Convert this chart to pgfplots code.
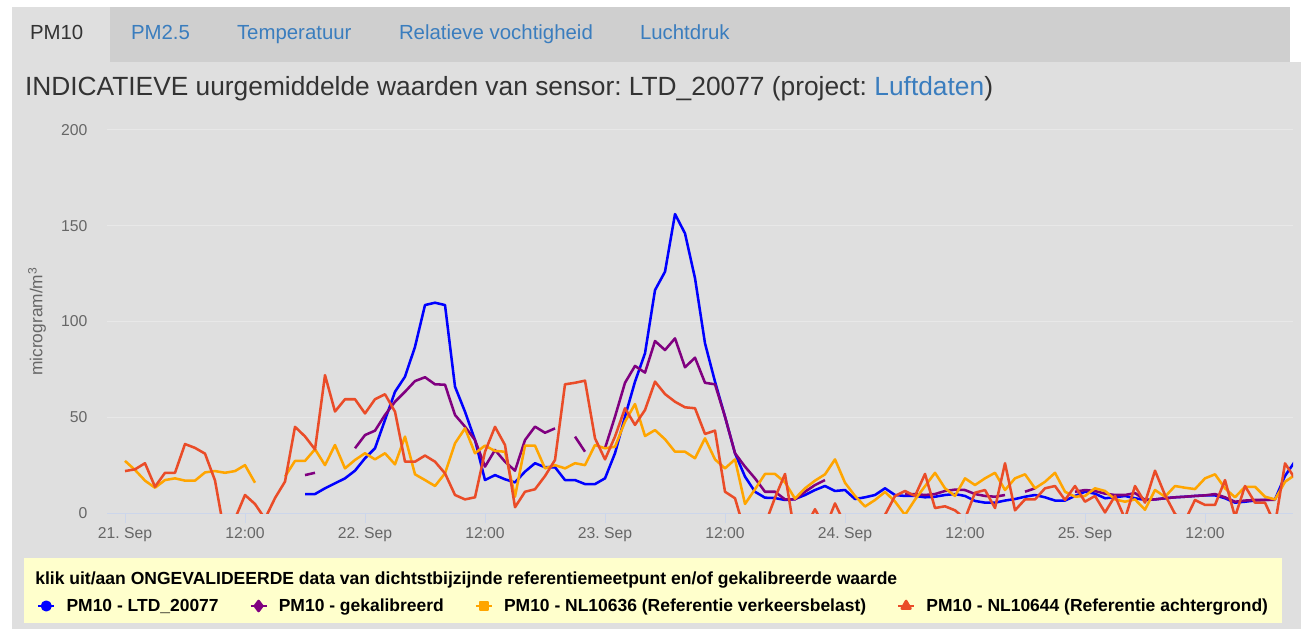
\documentclass[border=0pt]{standalone}
\usepackage{fontspec}
\setmainfont{Liberation Sans}
\usepackage{pgfplots}
\pgfplotsset{compat=1.18}
\usepackage{pgfplotstable}
\frenchspacing
\definecolor{cblue}{RGB}{0,0,255}
\definecolor{cpurple}{RGB}{128,0,128}
\definecolor{corange}{RGB}{255,165,0}
\definecolor{cred}{RGB}{234,76,40}
\definecolor{panel}{RGB}{223,223,223}
\definecolor{tabbar}{RGB}{207,207,207}
\definecolor{linkblue}{RGB}{58,125,190}
\definecolor{legbg}{RGB}{255,255,204}
\definecolor{gridc}{RGB}{232,232,232}
\definecolor{axisc}{RGB}{204,214,235}
\definecolor{tickc}{RGB}{102,102,102}
\definecolor{titlec}{RGB}{51,51,51}

\pgfplotstableread{
h b p o r
0 nan nan 27.2 21.9
1 nan nan 22.5 22.8
2 nan nan 16.9 26
3 nan nan 13.2 13.7
4 nan nan 17.2 21
5 nan nan 18.1 21
6 nan nan 16.9 36
7 nan nan 16.9 34
8 nan nan 21.2 31
9 nan nan 21.9 17
10 nan nan 21 -12
11 nan nan 21.9 -3
12 nan nan 25 9.4
13 nan nan 15.8 4.7
14 nan nan nan -3
15 nan nan nan 7.8
16 nan nan 19 16.4
17 nan nan 27.2 45
18 9.9 19.8 27.2 40
19 9.9 21 33.3 33.2
20 12.9 nan 25 72
21 15.5 nan 35.5 53
22 18.1 nan 23.3 59.4
23 22.1 33.8 27.7 59.4
24 28.6 40.7 31.2 52
25 33.8 43 28 59.4
26 48.6 51.2 31.2 62
27 63.3 58.1 25.4 52.9
28 71.2 63.3 39.9 26.8
29 86.8 68.9 20.2 26.8
30 108.6 70.9 17.2 30
31 109.8 67.2 14.1 26.8
32 108.6 67 20.7 20.7
33 66 51.2 36.4 9.4
34 52.9 45.1 44.2 7.1
35 38.1 38.1 31.2 8.2
36 17.2 24.2 35.2 32
37 19.8 32.9 32.4 45
38 17.6 26.8 32 35.5
39 16 22.1 8.5 3
40 21.6 38.1 35.2 11.1
41 26 45.1 35.2 12.4
42 23.9 41.9 23.3 19.3
43 23.9 44.2 25 27.7
44 17.2 nan 23.3 67.2
45 17.2 39.9 26 68
46 15.1 32 25 69.1
47 15.1 nan 35.5 39
48 18.1 33.8 33.8 28
49 31.2 50.3 34.6 39.9
50 50.3 68 47.7 54.7
51 68.6 76.8 56.9 46
52 83.4 73.3 40.2 53.8
53 116.4 89.8 43.3 68.6
54 126 85.1 38.5 62.1
55 156.1 91.2 32 58.1
56 146 76.1 32 55.2
57 122.6 81.1 28.6 54.7
58 88.6 68 39 41.3
59 68.6 67.2 28 43
60 50.3 50.3 23.3 11.1
61 31.2 31.2 28 7.7
62 19 24.2 4.7 -10
63 11.1 18.1 12.4 -10
64 8 11.1 20.4 -6
65 7.8 11.1 20.4 8
66 6.8 7.1 16 20.4
67 7.3 7.1 7.5 -12
68 9.4 11.1 12.9 -8
69 12 14.6 16.9 2
70 14.1 17.2 20.2 -8
71 11.5 nan 28 5
72 12 nan 15.8 -6
73 7.3 nan 8.9 -8
74 8.2 nan 3.4 -8
75 9.4 nan 6.8 -8
76 12.9 nan 11 -1
77 9.4 nan 6 8.9
78 8.9 9.9 -1 11.5
79 8.9 9.9 7 8.9
80 8.2 9.4 14 20.4
81 8.5 9.9 21 2.6
82 9.4 11.5 12.9 3.5
83 9.9 12.2 8.9 1.4
84 8.9 12 18.1 -3
85 6.3 9.9 14.6 10.6
86 5.4 8.9 18.1 12
87 5.4 8.5 21 2.6
88 6.5 9.4 12 26
89 7.3 nan 18.1 1.4
90 8.5 11.1 20.2 7.1
91 9.4 12.9 12.9 7.1
92 8.2 nan 16.3 12.9
93 6.5 nan 21 14.1
94 6.5 nan 11.1 6.8
95 8.9 11.1 8.5 14.1
96 11.1 12 8.9 5.9
97 10.1 11.5 12.9 8.9
98 7.7 10.1 11.5 0.3
99 8.2 9.4 7.1 8.9
100 8.9 9.4 5.9 -3
101 7.7 10.4 7.1 14.1
102 6.8 6.8 1.7 5.4
103 7.1 7.1 12 22.1
104 7.7 7.7 8.5 9.4
105 8.2 8.2 14.1 -0.5
106 8.5 8.5 13.2 -4
107 8.9 8.9 12.5 6.8
108 9.2 9.2 18.1 4.2
109 9.2 9.9 20.2 4.2
110 7.7 8.2 12.9 17.2
111 5.4 5.9 8.2 -2
112 5.9 6.5 13.7 14.1
113 6.5 6.8 13.7 5.4
114 6.8 6.8 8.5 5.4
115 7.1 6.8 7.1 -6
116 19.4 nan 16.3 25.9
117 27 nan 19.9 18
}\data

\begin{document}
\begin{tikzpicture}
\begin{scope}[x=0.75pt,y=-0.75pt,shift={(0pt,471.75pt)}]
\fill[white] (0,0) rectangle (1301,629);
\fill[panel] (12,62) rectangle (1301,629);
\fill[tabbar] (12,7) rectangle (1290,62);
\fill[panel] (12,7) rectangle (110,62);
\begin{scope}[every node/.style={inner sep=0pt, outer sep=0pt, anchor=base west, font=\fontsize{15.3}{17}\selectfont}]
\node[text=titlec] at (30,40) {PM10};
\node[text=linkblue] at (131,40) {PM2.5};
\node[text=linkblue] at (237,40) {Temperatuur};
\node[text=linkblue] at (399,40) {Relatieve vochtigheid};
\node[text=linkblue] at (640,40) {Luchtdruk};
\node[text=titlec, font=\fontsize{19.75}{22}\selectfont] at (25,96) {INDICATIEVE uurgemiddelde waarden van sensor: LTD\_20077 (project: \textcolor{linkblue}{Luftdaten})};
\end{scope}
\fill[legbg] (24,558) rectangle (1282,623);
\node[inner sep=0pt, anchor=base west, font=\bfseries\fontsize{13.15}{15}\selectfont] at (35,584) {klik uit/aan ONGEVALIDEERDE data van dichtstbijzijnde referentiemeetpunt en/of gekalibreerde waarde};
\end{scope}

\begin{axis}[
  at={(80.25pt,87pt)}, anchor=south west,
  scale only axis, width=889.5pt, height=287.25pt,
  xmin=-1.8, xmax=116.8, ymin=0, ymax=200,
  axis x line*=bottom, axis y line*=left,
  y axis line style={draw=none},
  x axis line style={draw=axisc, line width=0.75pt},
  xtick={0,12,...,108},
  xticklabels={21. Sep,12:00,22. Sep,12:00,23. Sep,12:00,24. Sep,12:00,25. Sep,12:00},
  ytick={0,50,100,150,200},
  ymajorgrids, grid style={draw=gridc, line width=0.75pt},
  tick align=outside,
  major tick length=7.5pt,
  xtick style={draw=axisc, line width=0.75pt},
  ytick style={draw=none},
  tick label style={font=\fontsize{11.8}{13}\selectfont, text=tickc},
  yticklabel style={xshift=-3.75pt},
  /pgf/number format/assume math mode=true,
  ylabel={microgram/m\textsuperscript{3}},
  ylabel style={at={(axis description cs:-0.0590,0.5)}, anchor=center, font=\fontsize{13}{15}\selectfont, text=tickc},
  unbounded coords=jump,
  legend columns=4,
  legend style={at={(axis description cs:-0.0590,-0.2428)}, anchor=west, draw=none, fill=none,
    font=\bfseries\fontsize{13.1}{15}\selectfont, inner sep=0pt, outer sep=0pt, nodes={inner sep=0pt},
    /tikz/every odd column/.append style={column sep=8.25pt},
    /tikz/every even column/.append style={column sep=23pt}},
  legend image code/.code={\draw[#1,mark=none] (0pt,0pt) -- (12pt,0pt); \draw[#1,only marks] plot coordinates {(6pt,0pt)};},
  every axis plot/.append style={line width=1.9pt, line join=round},
]
\addplot[cblue, forget plot] table[x=h, y=b] {\data};
\addplot[cpurple, forget plot] table[x=h, y=p] {\data};
\addplot[corange, forget plot] table[x=h, y=o] {\data};
\addplot[cred, forget plot] table[x=h, y=r] {\data};
\addlegendimage{cblue, line width=1.9pt, mark=*, mark size=3.2pt}
\addlegendentry{PM10 - LTD\_20077}
\addlegendimage{cpurple, line width=1.9pt, mark=diamond*, mark size=3.8pt}
\addlegendentry{PM10 - gekalibreerd}
\addlegendimage{corange, line width=1.9pt, mark=square*, mark size=3pt}
\addlegendentry{PM10 - NL10636 (Referentie verkeersbelast)}
\addlegendimage{cred, line width=1.9pt, mark=triangle*, mark size=3.8pt}
\addlegendentry{PM10 - NL10644 (Referentie achtergrond)}
\end{axis}
\end{tikzpicture}
\end{document}
